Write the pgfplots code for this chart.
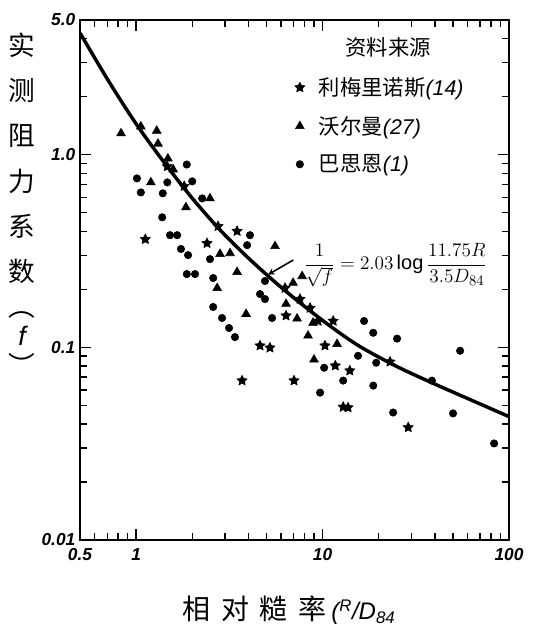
\documentclass[border=0pt]{standalone}
\usepackage{fontspec}
\setmainfont{Liberation Sans}
\newfontfamily\cjk{Noto Sans CJK SC}
\usepackage{graphicx}
\usepackage{pgfplots}
\pgfplotsset{compat=1.18}

\pgfdeclareplotmark{fstar}{%
  \pgfpathmoveto{\pgfpointpolar{90}{\pgfplotmarksize}}%
  \pgfpathlineto{\pgfpointpolar{126}{0.5\pgfplotmarksize}}%
  \pgfpathlineto{\pgfpointpolar{162}{\pgfplotmarksize}}%
  \pgfpathlineto{\pgfpointpolar{198}{0.5\pgfplotmarksize}}%
  \pgfpathlineto{\pgfpointpolar{234}{\pgfplotmarksize}}%
  \pgfpathlineto{\pgfpointpolar{270}{0.5\pgfplotmarksize}}%
  \pgfpathlineto{\pgfpointpolar{306}{\pgfplotmarksize}}%
  \pgfpathlineto{\pgfpointpolar{342}{0.5\pgfplotmarksize}}%
  \pgfpathlineto{\pgfpointpolar{18}{\pgfplotmarksize}}%
  \pgfpathlineto{\pgfpointpolar{54}{0.5\pgfplotmarksize}}%
  \pgfpathclose
  \pgfusepathqfillstroke
}

\begin{document}
\begin{tikzpicture}
\begin{axis}[
  at={(0,0)}, anchor=south west,
  scale only axis, width=321.75pt, height=390pt,
  xmode=log, ymode=log,
  xmin=0.5, xmax=100, ymin=0.01, ymax=5,
  xtick={0.5,1,10,100}, xticklabels={0.5,1,10,100},
  ytick={0.01,0.1,1,5}, yticklabels={0.01,0.1,1.0,5.0},
  minor xtick={0.6,0.7,0.8,0.9,2,3,4,5,6,7,8,9,20,30,40,50,60,70,80,90},
  minor ytick={0.02,0.03,0.04,0.05,0.06,0.07,0.08,0.09,0.2,0.3,0.4,0.5,0.6,0.7,0.8,0.9,2,3,4},
  tick align=inside,
  major tick length=8pt, minor tick length=5pt,
  axis line style={line width=1.6pt},
  every tick/.style={black, line width=1.1pt},
  /pgf/number format/assume math mode=true,
  ticklabel style={font=\bfseries\itshape\fontsize{13}{15}\selectfont},
  xticklabel style={yshift=-3pt},
  legend style={at={(0.50,0.895)}, anchor=north west, draw=none, fill=none,
    inner sep=0pt, font=\cjk\fontsize{16}{19}\selectfont, row sep=10pt,
    nodes={inner sep=2pt},
    /tikz/every odd column/.append style={column sep=0.3cm}},
  legend cell align=left,
]
\addplot[only marks, mark=fstar, mark size=4pt, draw=black, fill=black] coordinates {
(1.12,0.364) (1.47,0.869) (2.75,0.425) (3.48,0.401) (1.81,0.686) (2.40,0.347)
(3.70,0.0672) (7.03,0.0672) (6.29,0.203) (7.57,0.178) (8.57,0.160) (9.46,0.137)
(11.4,0.137) (10.3,0.102) (11.7,0.0803) (14.0,0.0757) (13.7,0.0487) (12.9,0.0490)
(23.0,0.0841) (28.8,0.0384) (4.62,0.102) (5.22,0.0995) (6.37,0.146)
};
\addlegendentry{利梅里诺斯{\normalfont\itshape (14)}}
\addplot[only marks, mark=triangle*, mark size=3.8pt, draw=black, fill=black] coordinates {
(0.830,1.29) (1.06,1.40) (1.29,1.33) (1.31,1.14) (1.48,0.955) (1.58,0.838)
(1.20,0.718) (1.85,0.533) (2.49,0.593) (5.56,0.335) (2.82,0.305) (3.19,0.308)
(3.48,0.246) (2.72,0.203) (3.89,0.149) (6.37,0.168) (7.30,0.141) (8.36,0.115)
(8.89,0.134) (9.00,0.0863) (11.96,0.104) (6.95,0.216) (7.77,0.234)
};
\addlegendentry{沃尔曼{\normalfont\itshape (27)}}
\addplot[only marks, mark=*, mark size=2.8pt, draw=black, fill=black] coordinates {
(1.01,0.753) (1.06,0.637) (1.39,0.630) (1.47,0.718) (1.87,0.889) (2.00,0.727)
(2.26,0.593) (1.38,0.473) (1.52,0.382) (1.66,0.382) (1.74,0.324) (1.90,0.301)
(4.08,0.382) (3.94,0.339) (2.49,0.287) (2.59,0.229) (4.91,0.221) (4.62,0.189)
(4.91,0.178) (2.59,0.162) (2.89,0.142) (3.15,0.126) (3.39,0.113) (5.36,0.142)
(1.87,0.240) (2.07,0.240) (16.7,0.137) (18.7,0.119) (25.1,0.111) (15.5,0.0904)
(19.4,0.0832) (10.2,0.0784) (12.9,0.0672) (18.7,0.0633) (9.70,0.0582) (23.9,0.0459)
(54.7,0.0960) (38.6,0.0672) (50.1,0.0454) (83.2,0.0317)
};
\addlegendentry{巴思恩{\normalfont\itshape (1)}}
\addplot[forget plot, black, line width=2.6pt, smooth] coordinates {
(0.501,4.27) (0.708,2.43) (1.0,1.445) (1.413,0.912) (1.995,0.596) (2.818,0.407)
(3.981,0.292) (5.623,0.216) (7.943,0.164) (11.22,0.127) (15.85,0.101)
(25.12,0.0794) (39.81,0.0646) (63.10,0.0531) (100,0.0437)
};
\end{axis}
% legend title
\node[font=\cjk\fontsize{16}{19}\selectfont] at (231pt,369.75pt) {资料来源};
% equation annotation
\node[anchor=west, font=\fontsize{15}{17}\selectfont, inner sep=0pt] at (168pt,206pt)
  {$\displaystyle \frac{1}{\sqrt{f}}=2.03\log\frac{11.75R}{3.5D_{84}}$};
\draw[line width=1.2pt, -stealth] (160pt,210pt) -- (141pt,199pt);
% y label
\node[anchor=north, align=center, font=\cjk\fontsize{20}{34}\selectfont] at (-43.5pt,384pt)
  {实\\测\\阻\\力\\系\\数\\[-8pt]︵\\[-12pt]{\normalfont\itshape f}\\[-12pt]︶};
% x label
\node[font=\cjk\fontsize{21}{24}\selectfont] at (156.75pt,-52.5pt)
  {相\hspace{8pt}对\hspace{8pt}糙\hspace{8pt}率\,{\normalfont\itshape\fontsize{18}{20}\selectfont(\textsuperscript{R}/D\textsubscript{84}}};
% page frame
\path (-60pt,-75.75pt) rectangle (348pt,405pt);
\end{tikzpicture}
\end{document}
